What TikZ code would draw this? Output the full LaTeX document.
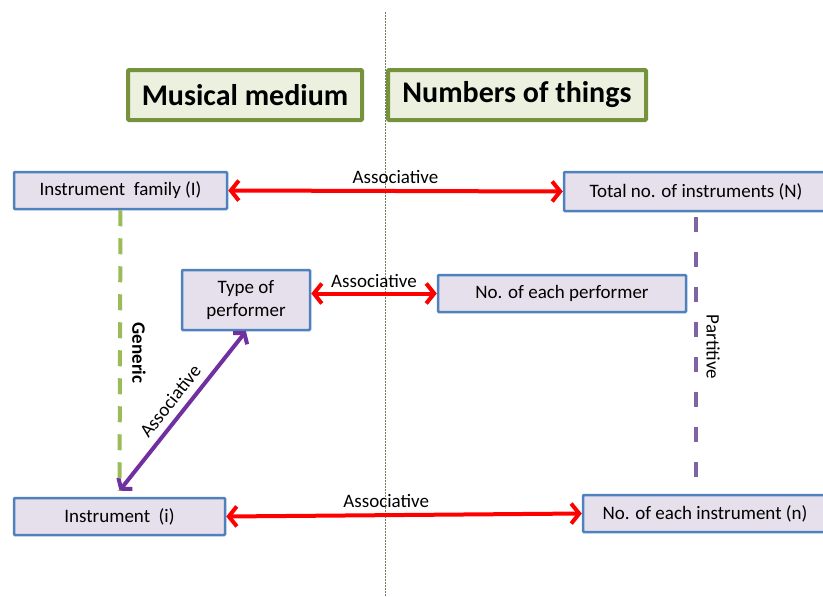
\documentclass[tikz,border=0pt]{standalone}
\usepackage{fontspec}
\setmainfont{Carlito}
\usetikzlibrary{arrows.meta}
\definecolor{titlegreen}{HTML}{76923C}
\definecolor{titlefill}{HTML}{EBF1DE}
\definecolor{boxblue}{HTML}{4F81BD}
\definecolor{boxfill}{HTML}{E5E0EC}
\definecolor{assocpurple}{HTML}{7030A0}
\definecolor{genericgreen}{HTML}{9BBB59}
\definecolor{partpurple}{HTML}{8064A2}
\definecolor{midgray}{HTML}{6E7E5E}

\begin{document}
\begin{tikzpicture}[x=1pt, y=-1pt,
    every node/.style={font=\fontsize{19}{23}\selectfont},
    heading/.style={rectangle, draw=titlegreen, fill=titlefill, line width=4pt,
      rounded corners=1pt, font=\fontsize{30}{34}\selectfont\bfseries},
    box/.style={rectangle, draw=boxblue, fill=boxfill, line width=2.5pt,
      rounded corners=1pt, align=center, inner sep=0pt},
    assoc/.style={draw=red, line width=4pt,
      {Straight Barb[length=8pt,width=20pt]}-{Straight Barb[length=8pt,width=20pt]}},
    assocdiag/.style={draw=assocpurple, line width=4pt,
      {Straight Barb[length=7pt,width=18pt]}-{Straight Barb[length=7pt,width=18pt]}},
    generic/.style={draw=genericgreen, line width=4pt, dash pattern=on 16pt off 12pt},
    partitive/.style={draw=partpurple, line width=4pt, dash pattern=on 15pt off 20pt},
    midline/.style={draw=midgray, line width=1pt, dash pattern=on 2pt off 1pt}]
  \useasboundingbox (0,0) rectangle (823,597);

  % dividing line
  \draw[midline] (385,12) -- (385,597);

  % headings
  \node[heading, minimum width=234pt, minimum height=50pt] (medium) at (245,95) {Musical medium};
  \node[heading, minimum width=258pt, minimum height=50pt] (numbers) at (517,95) {Numbers of things};

  % boxes
  \node[box, minimum width=213pt, minimum height=37pt] (family) at (120.5,190.5) {Instrument\ \ family (I)};
  \node[box, minimum width=264pt, minimum height=39pt] (total) at (696,191.5) {Total no. of instruments (N)};
  \node[box, minimum width=128pt, minimum height=60pt] (type) at (246,300) {Type of\\performer};
  \node[box, minimum width=248pt, minimum height=37pt] (perf) at (562,293.5) {No. of each performer};
  \node[box, minimum width=211pt, minimum height=37pt] (instr) at (119.5,516.5) {Instrument\ \ (i)};
  \node[box, minimum width=244pt, minimum height=37pt] (each) at (705,513.5) {No. of each instrument (n)};

  % relations
  \draw[assoc] (family.east) -- node[above=2pt] (a1) {Associative} (total.west);
  \draw[assoc] (type.east |- perf.west) -- node[above=1pt] (a2) {Associative} (perf.west);
  \draw[assoc] (instr.east) -- node[pos=0.45, above=2pt] (a3) {Associative} (each.west);
  \draw[assocdiag] (type.south) -- node[sloped, above=4pt] (a4) {Associative} ([yshift=6pt]instr.north);
  \draw[generic] (family.south) -- ([yshift=6pt]instr.north);
  \draw[partitive] ([yshift=-5pt]total.south) -- ([yshift=10pt]total.south |- each.north);

  \node[rotate=-90, font=\fontsize{19}{23}\selectfont\bfseries] (gen) at (139,353) {Generic};
  \node[rotate=-90] (part) at (713,347) {Partitive};
\end{tikzpicture}
\end{document}
